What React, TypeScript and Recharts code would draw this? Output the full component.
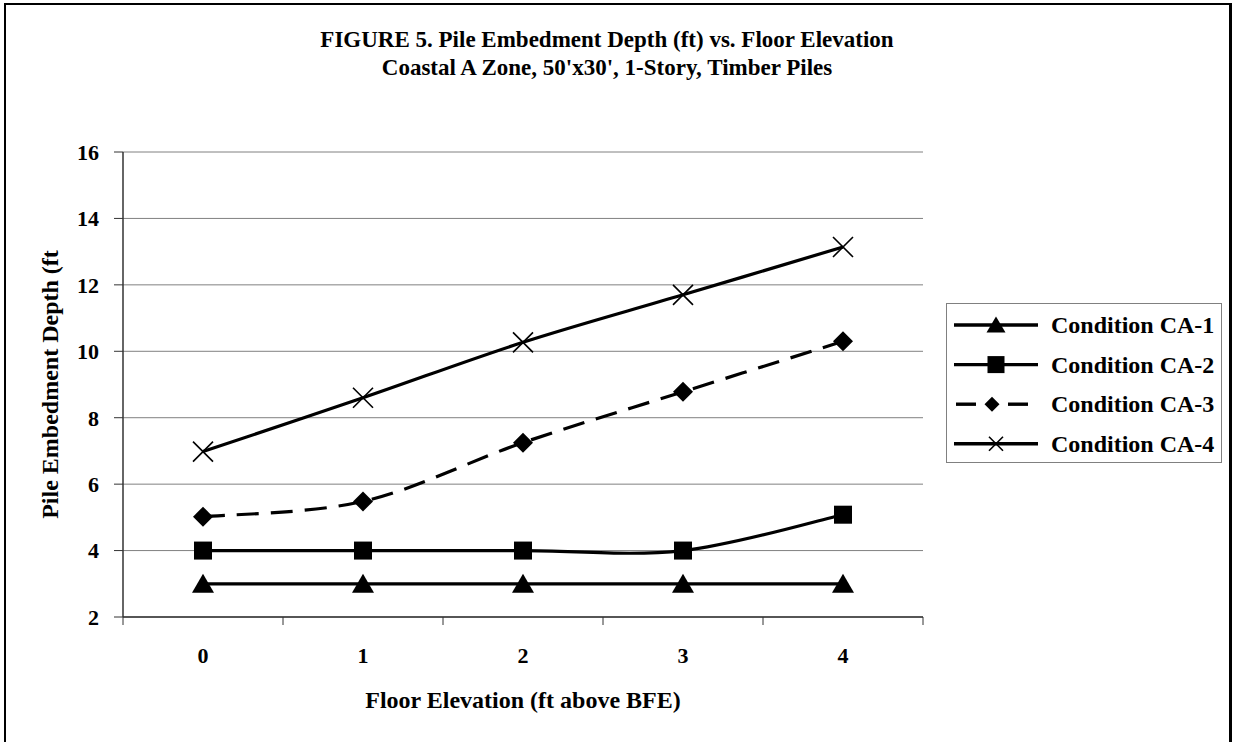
import React from 'react';
import { LineChart, Line, XAxis, YAxis, CartesianGrid } from 'recharts';

// floor elevation above BFE (ft)
const elevations = [0, 1, 2, 3, 4];
// pile embedment depth (ft) per condition
const ca1 = [3, 3, 3, 3, 3];
const ca2 = [4, 4, 4, 4, 5.08];
const ca3 = [5.02, 5.48, 7.25, 8.78, 10.3];
const ca4 = [6.98, 8.6, 10.27, 11.7, 13.14];

const seriesKeys = ['ca1', 'ca2', 'ca3', 'ca4'];
const seriesNames = ['Condition CA-1', 'Condition CA-2', 'Condition CA-3', 'Condition CA-4'];
const yTicks = [2, 4, 6, 8, 10, 12, 14, 16];
const xTicks = [-0.5, 0, 0.5, 1, 1.5, 2, 2.5, 3, 3.5, 4, 4.5];

const data = elevations.map((e, i) => ({
  elev: e,
  ca1: ca1[i],
  ca2: ca2[i],
  ca3: ca3[i],
  ca4: ca4[i],
}));

const FONT = '"Liberation Serif", "Times New Roman", serif';

// Excel-style smoothed line (Catmull-Rom through the points)
const smoothCurve = (context: any) => {
  let pts: number[][] = [];
  return {
    areaStart() {},
    areaEnd() {},
    lineStart() {
      pts = [];
    },
    point(x: number, y: number) {
      pts.push([+x, +y]);
    },
    lineEnd() {
      const n = pts.length;
      if (!n) return;
      context.moveTo(pts[0][0], pts[0][1]);
      for (let i = 0; i < n - 1; i++) {
        const p0 = pts[Math.max(i - 1, 0)];
        const p1 = pts[i];
        const p2 = pts[i + 1];
        const p3 = pts[Math.min(i + 2, n - 1)];
        context.bezierCurveTo(
          p1[0] + (p2[0] - p0[0]) / 6,
          p1[1] + (p2[1] - p0[1]) / 6,
          p2[0] - (p3[0] - p1[0]) / 6,
          p2[1] - (p3[1] - p1[1]) / 6,
          p2[0],
          p2[1]
        );
      }
    },
  };
};

const Marker = ({ kind, cx, cy, s }: { kind: string; cx: number; cy: number; s: number }) => {
  const h = s / 2;
  if (kind === 'triangle') {
    return <path d={`M${cx},${cy - h}L${cx + h + 1},${cy + h - 1}L${cx - h - 1},${cy + h - 1}Z`} fill="#000" />;
  }
  if (kind === 'square') {
    return <rect x={cx - h} y={cy - h} width={s} height={s} fill="#000" />;
  }
  if (kind === 'diamond') {
    return <path d={`M${cx},${cy - h}L${cx + h},${cy}L${cx},${cy + h}L${cx - h},${cy}Z`} fill="#000" />;
  }
  return (
    <path
      d={`M${cx - h},${cy - h}L${cx + h},${cy + h}M${cx + h},${cy - h}L${cx - h},${cy + h}`}
      stroke="#000"
      strokeWidth={1.6}
      fill="none"
    />
  );
};

const markerKinds: Record<string, string> = { ca1: 'triangle', ca2: 'square', ca3: 'diamond', ca4: 'cross' };

const makeDot = (kind: string, s: number) => (props: any) => {
  const { cx, cy, index } = props;
  if (cx == null || cy == null) return <g key={index} />;
  return <Marker key={index} kind={kind} cx={cx} cy={cy} s={s} />;
};

const XTick = ({ x, y, payload }: any) => {
  const v = payload.value;
  if (!Number.isInteger(v)) {
    return <line x1={x} x2={x} y1={y} y2={y + 8} stroke="#333" strokeWidth={1} />;
  }
  return (
    <text x={x} y={y + 38} textAnchor="middle" dominantBaseline="central" fontFamily={FONT} fontWeight="bold" fontSize={22} fill="#000">
      {v}
    </text>
  );
};

const LegendBox = () => (
  <svg width={277} height={161} style={{ display: 'block' }}>
    <rect x={0.5} y={0.5} width={275} height={159} fill="#fff" stroke="#808080" strokeWidth={1} />
    {seriesKeys.map((key, i) => {
      const cy = 22 + i * 39.6;
      const kind = markerKinds[key];
      return (
        <g key={key}>
          {kind === 'diamond' ? (
            <>
              <line x1={10} x2={30} y1={cy} y2={cy} stroke="#000" strokeWidth={3.4} />
              <line x1={62} x2={82} y1={cy} y2={cy} stroke="#000" strokeWidth={3.4} />
            </>
          ) : (
            <line x1={8} x2={92} y1={cy} y2={cy} stroke="#000" strokeWidth={3.4} />
          )}
          <Marker kind={kind} cx={kind === 'diamond' ? 46 : 50} cy={cy} s={kind === 'cross' ? 14 : kind === 'diamond' ? 15 : 17} />
          <text x={105} y={cy} dominantBaseline="central" fontFamily={FONT} fontWeight="bold" fontSize={24} fill="#000">
            {seriesNames[i]}
          </text>
        </g>
      );
    })}
  </svg>
);

const YLabel = ({ viewBox }: any) => {
  const x = viewBox.x - 13;
  const y = viewBox.y + viewBox.height / 2;
  return (
    <text
      x={x}
      y={y}
      transform={`rotate(-90, ${x}, ${y})`}
      textAnchor="middle"
      dominantBaseline="central"
      fontFamily={FONT}
      fontWeight="bold"
      fontSize={24}
      fill="#000"
    >
      Pile Embedment Depth (ft
    </text>
  );
};

const XLabel = ({ viewBox }: any) => (
  <text
    x={viewBox.x + viewBox.width / 2}
    y={viewBox.y + 83}
    textAnchor="middle"
    dominantBaseline="central"
    fontFamily={FONT}
    fontWeight="bold"
    fontSize={24}
    fill="#000"
  >
    Floor Elevation (ft above BFE)
  </text>
);

const App: React.FC = () => {
  return (
    <div style={{ position: 'absolute', left: 0, top: 0, width: 1233, height: 742, overflow: 'hidden', background: '#fff' }}>
      <div
        style={{
          position: 'absolute',
          left: 4,
          top: 3,
          width: 1223,
          height: 739,
          borderLeft: '2px solid #000',
          borderTop: '2px solid #000',
          borderRight: '3px solid #000',
        }}
      />
      <div
        style={{
          position: 'absolute',
          left: 0,
          top: 26,
          width: 1214,
          textAlign: 'center',
          fontFamily: FONT,
          fontWeight: 'bold',
          fontSize: 23,
          lineHeight: '28px',
          color: '#000',
        }}
      >
        <div>FIGURE 5. Pile Embedment Depth (ft) vs. Floor Elevation</div>
        <div>Coastal A Zone, 50'x30', 1-Story, Timber Piles</div>
      </div>
      <div style={{ position: 'absolute', left: 0, top: 0 }}>
        <LineChart width={1233} height={742} data={data} margin={{ top: 152, right: 310, bottom: 85, left: 63 }}>
          <CartesianGrid vertical={false} stroke="#808080" strokeWidth={1} />
          <XAxis
            dataKey="elev"
            type="number"
            domain={[-0.5, 4.5]}
            ticks={xTicks}
            interval={0}
            tick={<XTick />}
            tickLine={false}
            tickSize={0}
            tickMargin={0}
            height={40}
            axisLine={{ stroke: '#333', strokeWidth: 1.5 }}
            label={<XLabel />}
          />
          <YAxis
            domain={[2, 16]}
            ticks={yTicks}
            interval={0}
            width={60}
            tickSize={9}
            tickMargin={15}
            tickLine={{ stroke: '#333' }}
            axisLine={{ stroke: '#333', strokeWidth: 1.5 }}
            tick={{ fontFamily: FONT, fontWeight: 'bold', fontSize: 22, fill: '#000' }}
            label={<YLabel />}
          />
          <YAxis yAxisId="right" orientation="right" domain={[2, 16]} width={0} tick={false} tickLine={false} axisLine={{ stroke: '#808080', strokeWidth: 1.5 }} />
          <Line name={seriesNames[0]} dataKey="ca1" type={smoothCurve as any} stroke="#000" strokeWidth={3.2} dot={makeDot('triangle', 20)} activeDot={false} isAnimationActive={false} />
          <Line name={seriesNames[1]} dataKey="ca2" type={smoothCurve as any} stroke="#000" strokeWidth={3.2} dot={makeDot('square', 18)} activeDot={false} isAnimationActive={false} />
          <Line name={seriesNames[2]} dataKey="ca3" type={smoothCurve as any} stroke="#000" strokeWidth={3.2} strokeDasharray="22 12" dot={makeDot('diamond', 20)} activeDot={false} isAnimationActive={false} />
          <Line name={seriesNames[3]} dataKey="ca4" type={smoothCurve as any} stroke="#000" strokeWidth={3.2} dot={makeDot('cross', 20)} activeDot={false} isAnimationActive={false} />
        </LineChart>
      </div>
      <div style={{ position: 'absolute', left: 946, top: 303 }}>
        <LegendBox />
      </div>
    </div>
  );
};

export default App;
